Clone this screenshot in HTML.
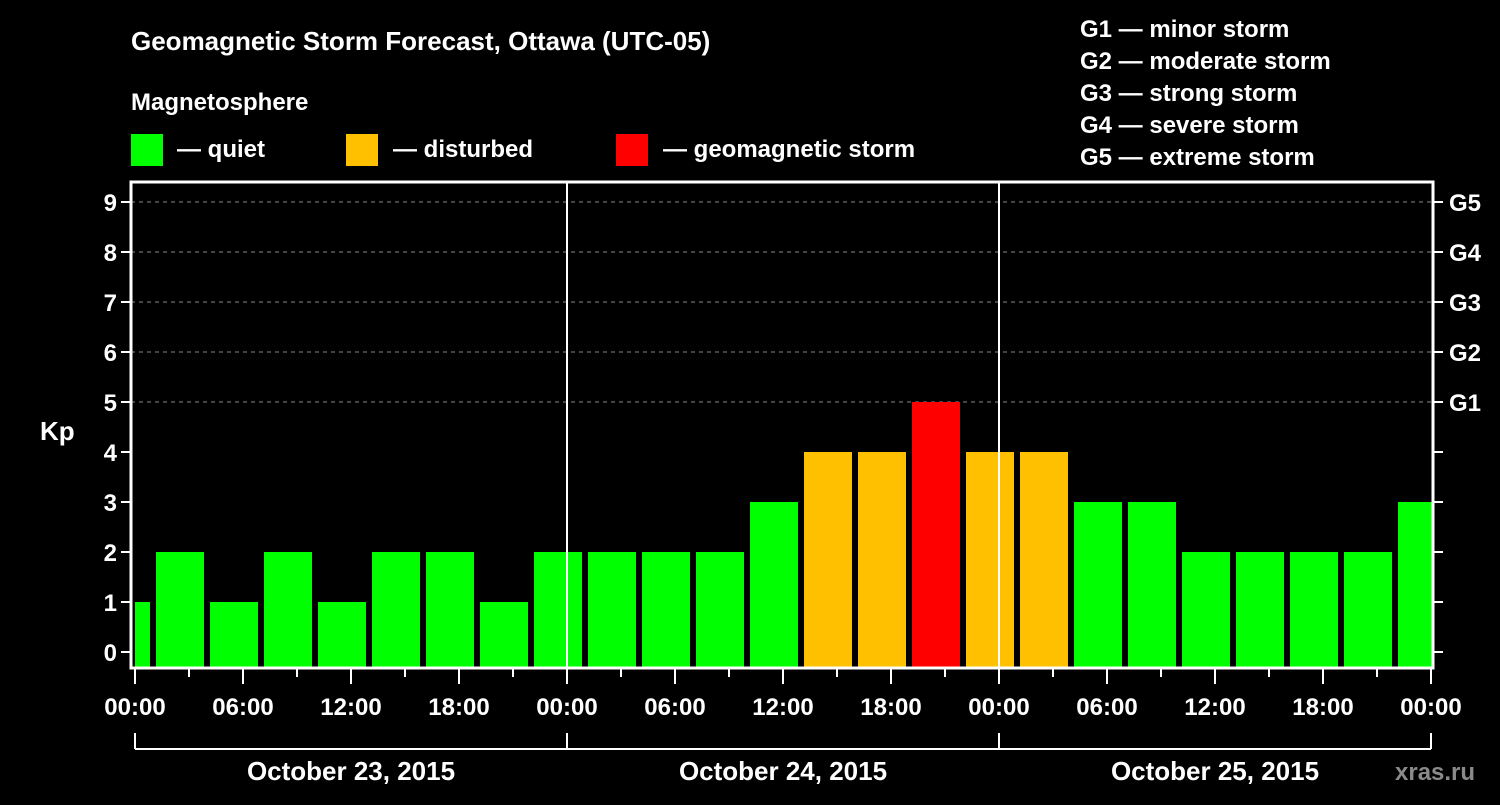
<!DOCTYPE html>
<html><head><meta charset="utf-8"><style>
html,body{margin:0;padding:0;background:#000;}
svg text{font-family:"Liberation Sans",Arial,sans-serif;font-weight:bold;fill:#fff;}
</style></head><body>
<svg id="chart" width="1500" height="800" viewBox="0 0 1500 800" xmlns="http://www.w3.org/2000/svg">
<rect width="1500" height="800" fill="#000"/>
<text x="131" y="50" font-size="26">Geomagnetic Storm Forecast, Ottawa (UTC-05)</text>
<text x="131" y="110" font-size="24">Magnetosphere</text>
<rect x="131" y="134" width="32" height="32" fill="#00ff00"/>
<text x="177" y="157" font-size="24">— quiet</text>
<rect x="346" y="134" width="32" height="32" fill="#ffc000"/>
<text x="393" y="157" font-size="24">— disturbed</text>
<rect x="616" y="134" width="32" height="32" fill="#ff0000"/>
<text x="663" y="157" font-size="24">— geomagnetic storm</text>
<g font-size="24">
<text x="1080" y="37">G1 — minor storm</text>
<text x="1080" y="69">G2 — moderate storm</text>
<text x="1080" y="101">G3 — strong storm</text>
<text x="1080" y="133">G4 — severe storm</text>
<text x="1080" y="165">G5 — extreme storm</text>
</g>
<text x="40" y="440" font-size="26">Kp</text>
<text x="1395" y="780" font-size="24" fill="#888" style="fill:#8a8a8a">xras.ru</text>
<g id="plot"></g>
</svg>
<script>
const kpValues=[1,2,1,2,1,2,2,1,2,2,2,2,3,4,4,5,4,4,3,3,2,2,2,2,3];
const yTicks=[0,1,2,3,4,5,6,7,8,9];
const gLabels=["","","","","","G1","G2","G3","G4","G5"];
const xTickLabels=["00:00","06:00","12:00","18:00","00:00","06:00","12:00","18:00","00:00","06:00","12:00","18:00","00:00"];
const dayLabels=["October 23, 2015","October 24, 2015","October 25, 2015"];
const NS="http://www.w3.org/2000/svg";
const L=131,R=1433,T=182,B=668;
const x=h=>135+h*18; // hours
const y=v=>652-v*50;
const g=document.getElementById('plot');
function mk(t,a,p){const e=document.createElementNS(NS,t);for(const k in a)e.setAttribute(k,a[k]);(p||g).appendChild(e);return e;}
const cp=mk('clipPath',{id:'clip'});mk('rect',{x:L+4,y:T,width:R-L-5,height:B-T},cp);
// grid
yTicks.forEach(v=>{if(v>=5){const e=mk('line',{x1:L,x2:R,y1:y(v),y2:y(v),stroke:'#888','stroke-dasharray':'4,4','stroke-width':1});

}});
// bars
const bg=mk('g',{'clip-path':'url(#clip)'});
kpValues.forEach((v,i)=>{const c=x(-0.5+3*i);const col=v>=5?'#ff0000':(v>=4?'#ffc000':'#00ff00');
const r=mk('rect',{x:c-24,y:y(v),width:48,height:B-y(v),fill:col},bg);

});
// frame
const f=mk('rect',{x:L,y:T,width:R-L,height:B-T,fill:'none',stroke:'#fff','stroke-width':3});


[24,48].forEach(h=>{const e=mk('line',{x1:x(h),x2:x(h),y1:T,y2:B,stroke:'#fff','stroke-width':2});

});
// y ticks
yTicks.forEach((v,i)=>{mk('line',{x1:L-10,x2:L,y1:y(v),y2:y(v),stroke:'#fff','stroke-width':2});
mk('line',{x1:R,x2:R+10,y1:y(v),y2:y(v),stroke:'#fff','stroke-width':2});
const t=mk('text',{x:L-14,y:y(v)+9,'font-size':24,'text-anchor':'end'});t.textContent=v;


if(gLabels[i]){const tg=mk('text',{x:R+16,y:y(v)+9,'font-size':24});tg.textContent=gLabels[i];

}});
// x ticks
for(let h=0;h<=72;h+=3){const major=h%6===0;mk('line',{x1:x(h),x2:x(h),y1:B,y2:B+(major?16:9),stroke:'#fff','stroke-width':2});}
xTickLabels.forEach((s,i)=>{const t=mk('text',{x:x(i*6),y:715,'font-size':24,'text-anchor':'middle'});t.textContent=s;

});
// day bracket
mk('line',{x1:x(0),x2:x(72),y1:749,y2:749,stroke:'#fff','stroke-width':2});
[0,24,48,72].forEach(h=>mk('line',{x1:x(h),x2:x(h),y1:733,y2:749,stroke:'#fff','stroke-width':2}));
dayLabels.forEach((s,i)=>{const t=mk('text',{x:x(12+24*i),y:780,'font-size':26,'text-anchor':'middle'});t.textContent=s;

});
</script>
</body></html>
